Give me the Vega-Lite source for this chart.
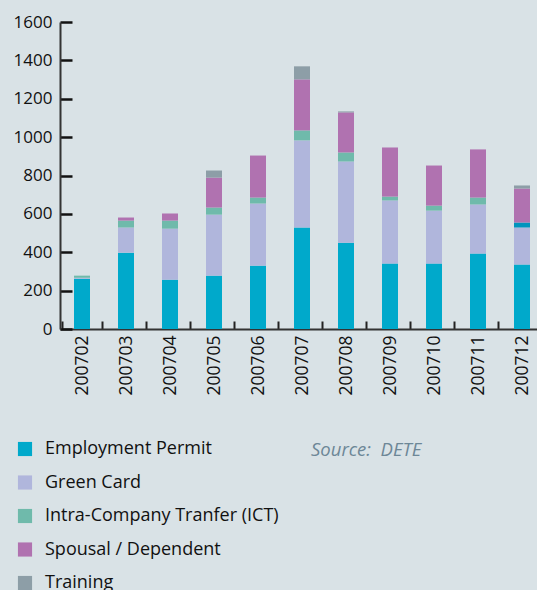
{
  "$schema": "https://vega.github.io/schema/vega-lite/v6.json",
  "autosize": {"type": "none"},
  "width": 484,
  "height": 307,
  "padding": {"left": 60, "top": 22, "right": 0, "bottom": 261},
  "background": "#d9e2e6",
  "config": {
    "view": {"stroke": null},
    "font": "Open Sans",
    "axis": {"labelFont": "Open Sans", "labelColor": "#111111"}
  },
  "title": {
    "text": "Source:\u00a0\u00a0DETE",
    "orient": "bottom",
    "anchor": "start",
    "frame": "group",
    "font": "Open Sans",
    "fontStyle": "italic",
    "fontWeight": "normal",
    "fontSize": 18.5,
    "color": "#6d8797",
    "dx": 251,
    "dy": -251,
    "offset": 100
  },
  "data": {
    "values": [
      {"month": "200702", "type": "Employment Permit", "value": 262},
      {"month": "200702", "type": "Green Card", "value": 5},
      {"month": "200702", "type": "Intra-Company Tranfer (ICT)", "value": 11},
      {"month": "200703", "type": "Employment Permit", "value": 398},
      {"month": "200703", "type": "Green Card", "value": 131},
      {"month": "200703", "type": "Intra-Company Tranfer (ICT)", "value": 36},
      {"month": "200703", "type": "Spousal / Dependent", "value": 16},
      {"month": "200704", "type": "Employment Permit", "value": 257},
      {"month": "200704", "type": "Green Card", "value": 266},
      {"month": "200704", "type": "Intra-Company Tranfer (ICT)", "value": 42},
      {"month": "200704", "type": "Spousal / Dependent", "value": 37},
      {"month": "200705", "type": "Employment Permit", "value": 278},
      {"month": "200705", "type": "Green Card", "value": 318},
      {"month": "200705", "type": "Intra-Company Tranfer (ICT)", "value": 37},
      {"month": "200705", "type": "Spousal / Dependent", "value": 156},
      {"month": "200705", "type": "Training", "value": 37},
      {"month": "200706", "type": "Employment Permit", "value": 330},
      {"month": "200706", "type": "Green Card", "value": 324},
      {"month": "200706", "type": "Intra-Company Tranfer (ICT)", "value": 31},
      {"month": "200706", "type": "Spousal / Dependent", "value": 219},
      {"month": "200707", "type": "Employment Permit", "value": 529},
      {"month": "200707", "type": "Green Card", "value": 454},
      {"month": "200707", "type": "Intra-Company Tranfer (ICT)", "value": 52},
      {"month": "200707", "type": "Spousal / Dependent", "value": 266},
      {"month": "200707", "type": "Training", "value": 68},
      {"month": "200708", "type": "Employment Permit", "value": 450},
      {"month": "200708", "type": "Green Card", "value": 423},
      {"month": "200708", "type": "Intra-Company Tranfer (ICT)", "value": 47},
      {"month": "200708", "type": "Spousal / Dependent", "value": 209},
      {"month": "200708", "type": "Training", "value": 5},
      {"month": "200709", "type": "Employment Permit", "value": 341},
      {"month": "200709", "type": "Green Card", "value": 329},
      {"month": "200709", "type": "Intra-Company Tranfer (ICT)", "value": 20},
      {"month": "200709", "type": "Spousal / Dependent", "value": 256},
      {"month": "200710", "type": "Employment Permit", "value": 341},
      {"month": "200710", "type": "Green Card", "value": 276},
      {"month": "200710", "type": "Intra-Company Tranfer (ICT)", "value": 26},
      {"month": "200710", "type": "Spousal / Dependent", "value": 209},
      {"month": "200711", "type": "Employment Permit", "value": 393},
      {"month": "200711", "type": "Green Card", "value": 256},
      {"month": "200711", "type": "Intra-Company Tranfer (ICT)", "value": 36},
      {"month": "200711", "type": "Spousal / Dependent", "value": 251},
      {"month": "200712", "type": "Employment Permit", "value": 336},
      {"month": "200712", "type": "Green Card", "value": 193},
      {"month": "200712", "type": "Other", "value": 26},
      {"month": "200712", "type": "Spousal / Dependent", "value": 177},
      {"month": "200712", "type": "Training", "value": 16}
    ]
  },
  "mark": {"type": "bar", "width": 16},
  "encoding": {
    "x": {
      "field": "month",
      "type": "ordinal",
      "title": null,
      "axis": {
        "labelAngle": 270,
        "labelFontSize": 17.5,
        "labelPadding": 14,
        "tickBand": "extent",
        "tickSize": -8,
        "tickWidth": 2,
        "tickColor": "#222222",
        "domainColor": "#333333",
        "domainWidth": 2
      }
    },
    "y": {
      "field": "value",
      "type": "quantitative",
      "aggregate": "sum",
      "stack": "zero",
      "title": null,
      "scale": {"domain": [0, 1600]},
      "axis": {
        "values": [0, 200, 400, 600, 800, 1000, 1200, 1400, 1600],
        "format": "d",
        "grid": false,
        "labelFontSize": 17,
        "labelPadding": 20,
        "tickSize": -12,
        "tickWidth": 2.5,
        "tickColor": "#111111",
        "domainColor": "#333333",
        "domainWidth": 2
      }
    },
    "color": {
      "field": "type",
      "type": "nominal",
      "sort": ["Employment Permit", "Green Card", "Intra-Company Tranfer (ICT)", "Other", "Spousal / Dependent", "Training"],
      "scale": {
        "domain": ["Employment Permit", "Green Card", "Intra-Company Tranfer (ICT)", "Other", "Spousal / Dependent", "Training"],
        "range": ["#00a9cb", "#b0b6dc", "#6fbaab", "#0094bd", "#b072b0", "#8d9ea7"]
      },
      "legend": {
        "orient": "none",
        "legendX": -44,
        "legendY": 418,
        "title": null,
        "values": ["Employment Permit", "Green Card", "Intra-Company Tranfer (ICT)", "Spousal / Dependent", "Training"],
        "symbolType": "square",
        "symbolSize": 200,
        "symbolStrokeWidth": 0,
        "symbolOpacity": 1,
        "labelFontSize": 18,
        "labelFont": "Open Sans",
        "labelColor": "#111111",
        "labelOffset": 11,
        "rowPadding": 15.5,
        "labelLimit": 400
      }
    },
    "order": {"field": "type", "sort": "ascending"}
  }
}
